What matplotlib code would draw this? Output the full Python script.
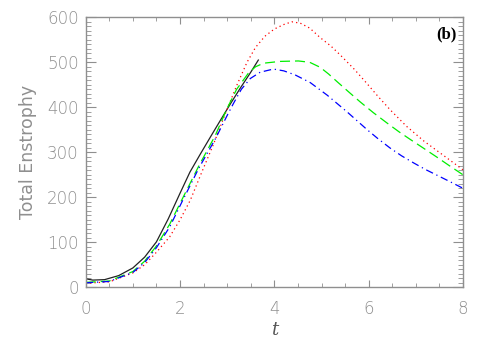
import matplotlib
matplotlib.use("Agg")
import matplotlib.pyplot as plt
from matplotlib.ticker import MultipleLocator

# values
t_black = [0.0, 0.15, 0.4, 0.7, 1.0, 1.25, 1.5, 1.75, 2.0, 2.21, 2.43, 2.65, 2.85, 3.07, 3.28,
           3.5, 3.66]
v_black = [19, 16, 17, 26, 43, 67, 101, 152, 209, 256, 296, 335, 370, 408, 443,
           478, 505]

t_red = [0.0, 0.5, 1.0, 1.25, 1.5, 1.78, 2.0, 2.22, 2.45, 2.71, 2.95, 3.2, 3.42, 3.6, 3.8,
         4.0, 4.2, 4.37, 4.55, 4.75, 4.97, 5.2, 5.4, 5.7, 5.97, 6.2, 6.46, 6.8, 7.17, 7.6, 8.0]
v_red = [9, 12, 32, 50, 78, 112, 150, 194, 253, 318, 383, 448, 500, 533, 558,
         574, 584, 590, 587, 576, 555, 536, 516, 484, 452, 424, 394, 358, 325, 292, 261]

t_green = [0.0, 0.5, 1.0, 1.25, 1.5, 1.78, 2.07, 2.4, 2.75, 3.0, 3.2, 3.45, 3.6, 3.77, 4.12,
           4.51, 4.75, 4.97, 5.15, 5.33, 5.6, 5.82, 6.1, 6.39, 6.65, 6.89, 7.15, 7.45, 7.7, 8.0]
v_green = [11, 14, 35, 58, 92, 140, 201, 270, 338, 398, 440, 476, 490, 498, 502,
           503, 500, 489, 474, 457, 432, 412, 388, 365, 345, 328, 310, 289, 271, 250]

t_blue = [0.0, 0.5, 1.0, 1.25, 1.5, 1.78, 2.07, 2.4, 2.75, 3.0, 3.13, 3.3, 3.49, 3.7, 3.98,
          4.2, 4.44, 4.76, 5.12, 5.54, 5.97, 6.2, 6.46, 6.7, 6.96, 7.2, 7.45, 7.7, 8.0]
v_blue = [10, 13, 33, 55, 88, 134, 196, 265, 330, 382, 408, 440, 464, 478, 485,
          481, 472, 455, 427, 390, 350, 330, 309, 292, 276, 262, 249, 236, 220]

gray = '#8f8f8f'

fig = plt.figure(figsize=(4.88, 3.49), dpi=100)
ax = fig.add_axes([0.1756, 0.1768, 0.7732, 0.7736])

ax.plot(t_black, v_black, color='#222222', lw=0.9)
ax.plot(t_red, v_red, color='red', lw=0.9, linestyle=(0, (1, 2.5)))
ax.plot(t_green, v_green, color='#00ee00', lw=0.9, linestyle=(0, (8, 4)))
ax.plot(t_blue, v_blue, color='blue', lw=0.9, linestyle=(0, (6, 3, 1, 3)))

ax.set_xlim(0, 8)
ax.set_ylim(0, 600)
ax.xaxis.set_major_locator(MultipleLocator(2))
ax.xaxis.set_minor_locator(MultipleLocator(0.5))
ax.yaxis.set_major_locator(MultipleLocator(100))
ax.yaxis.set_minor_locator(MultipleLocator(10))

for s in ax.spines.values():
    s.set_color(gray)
    s.set_linewidth(1.0)

ax.tick_params(axis='both', which='both', direction='in', colors=gray,
               top=True, right=True, labelsize=12)
ax.tick_params(axis='x', which='major', length=5, pad=9)
ax.tick_params(axis='x', which='minor', length=3)
ax.tick_params(axis='y', which='major', length=7, pad=5)
ax.tick_params(axis='y', which='minor', length=3.5)
for lab in ax.get_xticklabels() + ax.get_yticklabels():
    lab.set_fontweight('light')

ax.set_ylabel('Total Enstrophy', color=gray, fontsize=12.5, labelpad=7)
ax.set_xlabel('t', family='DejaVu Serif', style='italic', color='#555555',
              fontsize=13, labelpad=2)

ax.text(0.983, 0.938, '(b)', transform=ax.transAxes, ha='right', va='center',
        family='Liberation Serif', fontweight='bold', fontsize=12)

plt.savefig('out.png', dpi=100)
